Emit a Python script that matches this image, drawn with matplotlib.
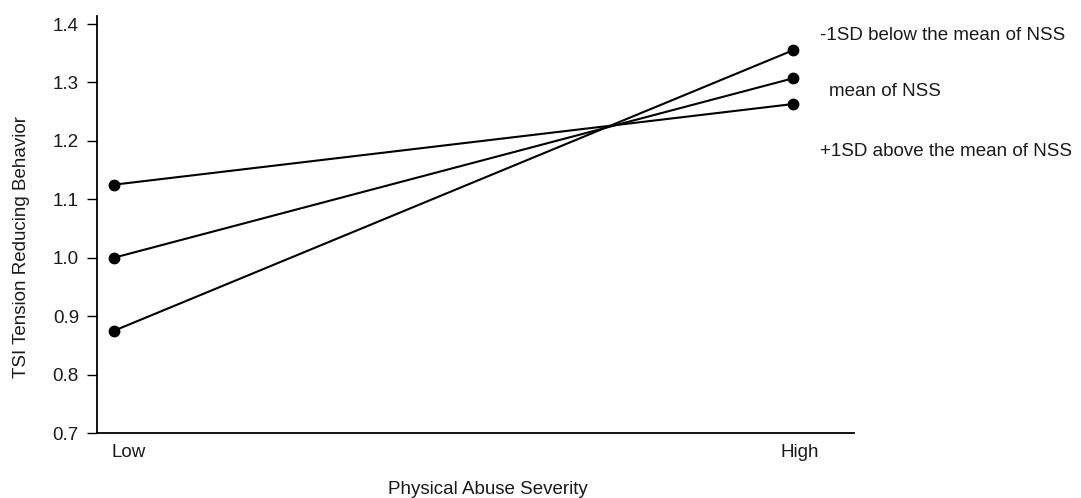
import matplotlib
matplotlib.use("Agg")
import matplotlib.pyplot as plt

plt.rcParams['font.family'] = ['Liberation Sans', 'DejaVu Sans']

x_categories = ["Low", "High"]
series_labels = ["-1SD below the mean of NSS", "mean of NSS", "+1SD above the mean of NSS"]
low_values = [0.875, 1.0, 1.125]
high_values = [1.355, 1.307, 1.263]
y_ticks = [0.7, 0.8, 0.9, 1.0, 1.1, 1.2, 1.3, 1.4]

FS = 13.5
TC = '#1a1a1a'

fig = plt.figure(figsize=(10.81, 4.98), dpi=100)
ax = fig.add_axes([97/1081, 1-433/498, (854-97)/1081, (433-16)/498])

xs = [0, 1]
for lo, hi in zip(low_values, high_values):
    ax.plot(xs, [lo, hi], color='black', lw=1.5, marker='o', markersize=7.5,
            markerfacecolor='black', markeredgecolor='black', solid_capstyle='butt')

ax.set_xlim(-0.025, 1.09)
ax.set_ylim(0.7, 1.4137)
ax.spines['top'].set_visible(False)
ax.spines['right'].set_visible(False)
ax.spines['left'].set_linewidth(1.3)
ax.spines['bottom'].set_linewidth(1.3)

ax.set_yticks(y_ticks)
ax.set_yticklabels([f"{v:.1f}" for v in y_ticks], fontsize=FS, color=TC)
ax.tick_params(axis='y', length=7, width=1, pad=6)
ax.set_xticks([0.021, 1.010])
ax.set_xticklabels(x_categories, fontsize=FS, color=TC)
ax.tick_params(axis='x', length=0, pad=8)

# right-side series labels
label_pos = [(820, 35), (829, 92), (820, 152)]
for (px, py), txt in zip(label_pos, series_labels):
    fig.text(px/1081, 1-py/498, txt, fontsize=FS, color=TC, va='center', ha='left')

fig.text(488/1081, 1-489/498, "Physical Abuse Severity", fontsize=FS, color=TC,
         ha='center', va='center')
fig.text(22/1081, 1-247/498, "TSI Tension Reducing Behavior", fontsize=FS, color=TC,
         ha='center', va='center', rotation=90)

fig.savefig("out.png", dpi=100)
